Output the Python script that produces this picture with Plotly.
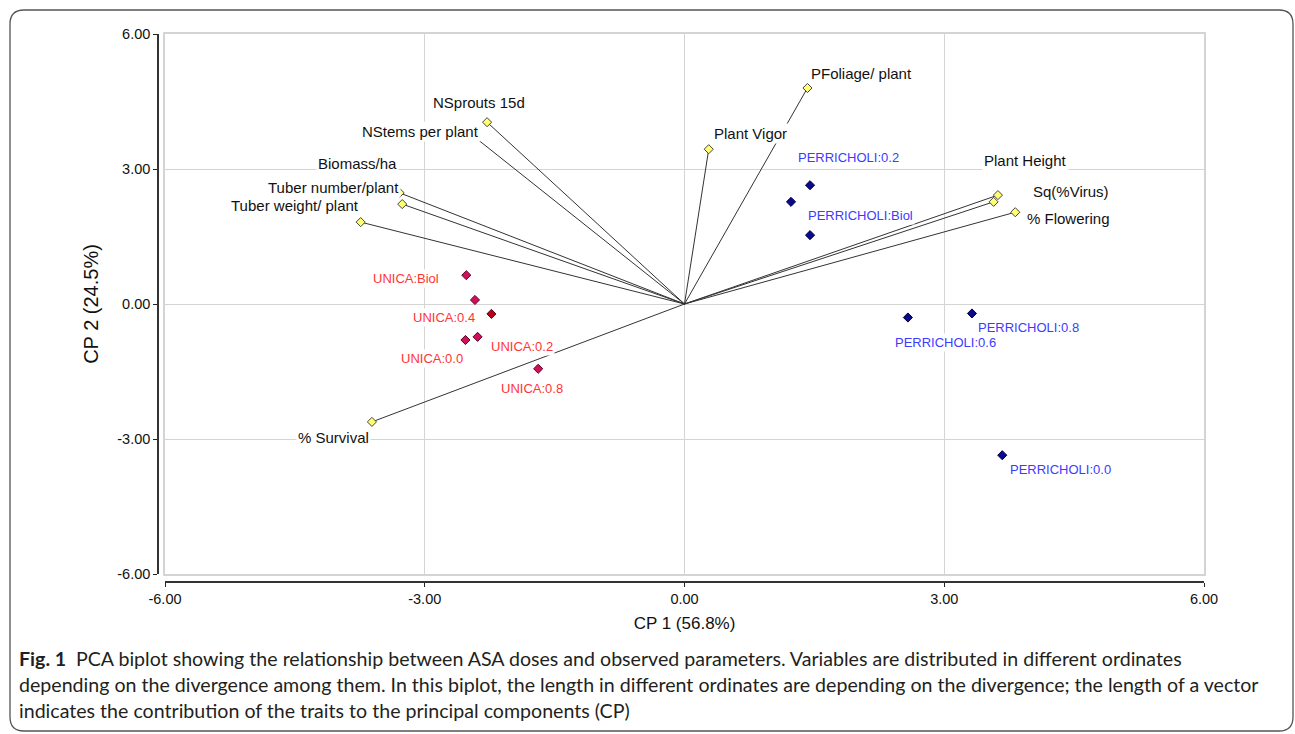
import plotly.graph_objects as go

# ---------------- data ----------------
var_names = ["PFoliage/ plant", "Plant Vigor", "NSprouts 15d", "NStems per plant", "Biomass/ha",
             "Tuber number/plant", "Tuber weight/ plant", "Plant Height", "Sq(%Virus)",
             "% Flowering", "% Survival"]
var_cp1 = [1.42, 0.28, -2.28, -2.45, -3.29, -3.26, -3.74, 3.62, 3.57, 3.82, -3.61]
var_cp2 = [4.80, 3.44, 4.04, 3.75, 2.47, 2.22, 1.82, 2.42, 2.27, 2.04, -2.62]
var_lab_x = [2.04, 0.76, -2.37, -3.05, -3.78, -4.05, -4.50, 3.94, 4.46, 4.44, -4.05]
var_lab_y = [5.13, 3.80, 4.47, 3.84, 3.13, 2.58, 2.18, 3.20, 2.51, 1.91, -2.96]

uni_names = ["UNICA:Biol", "UNICA:0.4", "UNICA:0.6", "UNICA:0.0", "UNICA:0.2", "UNICA:0.8"]
uni_cp1 = [-2.52, -2.42, -2.23, -2.53, -2.39, -1.69]
uni_cp2 = [0.64, 0.09, -0.22, -0.80, -0.73, -1.44]
uni_lab_x = [-3.22, -2.78, None, -2.92, -1.88, -1.76]
uni_lab_y = [0.56, -0.30, None, -1.21, -0.95, -1.87]

per_names = ["PERRICHOLI:0.2", "PERRICHOLI:Biol", "PERRICHOLI:0.4", "PERRICHOLI:0.6",
             "PERRICHOLI:0.8", "PERRICHOLI:0.0"]
per_cp1 = [1.45, 1.23, 1.45, 2.58, 3.32, 3.67]
per_cp2 = [2.64, 2.27, 1.53, -0.30, -0.21, -3.36]
per_lab_x = [1.89, 2.03, None, 3.02, 3.97, 4.34]
per_lab_y = [3.26, 1.96, None, -0.86, -0.53, -3.67]

tick_vals = [-6, -3, 0, 3, 6]
tick_text = ["-6.00", "-3.00", "0.00", "3.00", "6.00"]
x_title = "CP 1 (56.8%)"
y_title = "CP 2 (24.5%)"
caption = [
    "<b>Fig. 1</b>\u2002PCA biplot showing the relationship between ASA doses and observed parameters. Variables are distributed in different ordinates",
    "depending on the divergence among them. In this biplot, the length in different ordinates are depending on the divergence; the length of a vector",
    "indicates the contribution of the traits to the principal components (CP)",
]

# ---------------- layout geometry ----------------
W, H = 1295, 734
ML, MR, MT, MB = 158, 91, 34, 152
PW, PH = W - ML - MR, H - MT - MB


def ppx(px):
    return (px - ML) / PW


def ppy(py):
    return (H - MB - py) / PH


xdom0 = ppx(165)
ydom0 = ppy(574)

SANS = "Liberation Sans, Arial, sans-serif"
INK = "#111111"

fig = go.Figure()

# vectors
lx, ly = [], []
for x, y in zip(var_cp1, var_cp2):
    lx += [0, x, None]
    ly += [0, y, None]
fig.add_trace(go.Scatter(x=lx, y=ly, mode="lines", line=dict(color="#333333", width=1),
                         hoverinfo="skip", showlegend=False))
fig.add_trace(go.Scatter(x=var_cp1, y=var_cp2, mode="markers", text=var_names,
                         marker=dict(symbol="diamond", size=7, color="#ffff70",
                                     line=dict(color="#444444", width=1)),
                         showlegend=False))
# observations
uni_colors = ["#d0105a", "#d0105a", "#c00010", "#d0105a", "#d0105a", "#d0105a"]
fig.add_trace(go.Scatter(x=uni_cp1, y=uni_cp2, mode="markers", text=uni_names,
                         marker=dict(symbol="diamond", size=7, color=uni_colors,
                                     line=dict(color="#5a0020", width=1)),
                         showlegend=False))
fig.add_trace(go.Scatter(x=per_cp1, y=per_cp2, mode="markers", text=per_names,
                         marker=dict(symbol="diamond", size=7, color="#0a0a90",
                                     line=dict(color="#000040", width=1)),
                         showlegend=False))
# dummy trace for the offset axes
fig.add_trace(go.Scatter(x=[0], y=[0], xaxis="x2", yaxis="y2", mode="markers",
                         marker=dict(opacity=0), hoverinfo="skip", showlegend=False))

ann = []
for n, x, y in zip(var_names, var_lab_x, var_lab_y):
    ann.append(dict(x=x, y=y, xref="x", yref="y", text=n, showarrow=False,
                    font=dict(family=SANS, size=15, color=INK),
                    bgcolor="white", borderpad=1, xanchor="center", yanchor="middle"))
for n, x, y in zip(uni_names, uni_lab_x, uni_lab_y):
    if x is None:
        continue
    ann.append(dict(x=x, y=y, xref="x", yref="y", text=n, showarrow=False,
                    font=dict(family=SANS, size=13, color="#ff3535"),
                    bgcolor="white", borderpad=1, xanchor="center", yanchor="middle"))
for n, x, y in zip(per_names, per_lab_x, per_lab_y):
    if x is None:
        continue
    ann.append(dict(x=x, y=y, xref="x", yref="y", text=n, showarrow=False,
                    font=dict(family=SANS, size=13, color="#3c3cff"),
                    bgcolor="white", borderpad=1, xanchor="center", yanchor="middle"))
for i, line in enumerate(caption):
    ann.append(dict(x=ppx(17), y=ppy(658 + 26 * i), xref="paper", yref="paper", text=line,
                    showarrow=False, xanchor="left", yanchor="middle",
                    font=dict(family="Lato, Noto Sans, sans-serif", size=19.6, color="#231f20")))

# rounded outer frame
r = 14
x0, y0, x1, y1 = 10, 10, 1293, 731
pts = lambda px, py: f"{ppx(px):.5f},{ppy(py):.5f}"
path = (f"M {pts(x0 + r, y0)} L {pts(x1 - r, y0)} Q {pts(x1, y0)} {pts(x1, y0 + r)} "
        f"L {pts(x1, y1 - r)} Q {pts(x1, y1)} {pts(x1 - r, y1)} "
        f"L {pts(x0 + r, y1)} Q {pts(x0, y1)} {pts(x0, y1 - r)} "
        f"L {pts(x0, y0 + r)} Q {pts(x0, y0)} {pts(x0 + r, y0)} Z")

grid = "#d4d4d4"
fig.update_layout(
    width=W, height=H,
    margin=dict(l=ML, r=MR, t=MT, b=MB, autoexpand=False),
    paper_bgcolor="white", plot_bgcolor="white",
    annotations=ann,
    shapes=[dict(type="path", path=path, xref="paper", yref="paper",
                 line=dict(color="#555555", width=1.3), layer="above")],
    xaxis=dict(domain=[xdom0, 1], range=[-6, 6], tickvals=tick_vals, showticklabels=False,
               showgrid=True, gridcolor=grid, gridwidth=1, zeroline=False,
               showline=True, linecolor=grid, linewidth=1.5, mirror=True, ticks=""),
    yaxis=dict(domain=[ydom0, 1], range=[-6, 6], tickvals=tick_vals, showticklabels=False,
               showgrid=True, gridcolor=grid, gridwidth=1, zeroline=False,
               showline=True, linecolor=grid, linewidth=1.5, mirror=True, ticks=""),
    xaxis2=dict(overlaying="x", anchor="free", position=0, range=[-6, 6], tickvals=tick_vals,
                ticktext=tick_text, ticks="outside", ticklen=4, tickcolor="#222222",
                showline=True, linecolor="#333333", linewidth=1.5, showgrid=False, zeroline=False,
                tickfont=dict(family=SANS, size=14.5, color=INK),
                title=dict(text=x_title, standoff=10,
                           font=dict(family=SANS, size=17, color=INK)),
                automargin=False),
    yaxis2=dict(overlaying="y", anchor="free", position=0, side="left", range=[-6, 6],
                tickvals=tick_vals, ticktext=tick_text, ticks="outside", ticklen=4,
                tickcolor="#222222", showline=True, linecolor="#333333", linewidth=1.5,
                showgrid=False, zeroline=False,
                tickfont=dict(family=SANS, size=14.5, color=INK),
                title=dict(text=y_title, standoff=12,
                           font=dict(family=SANS, size=20, color=INK)),
                automargin=False),
)

fig.write_html("out.html", config={"displayModeBar": False},
               post_script="document.body.style.margin='0px';document.body.style.overflow='hidden';")
